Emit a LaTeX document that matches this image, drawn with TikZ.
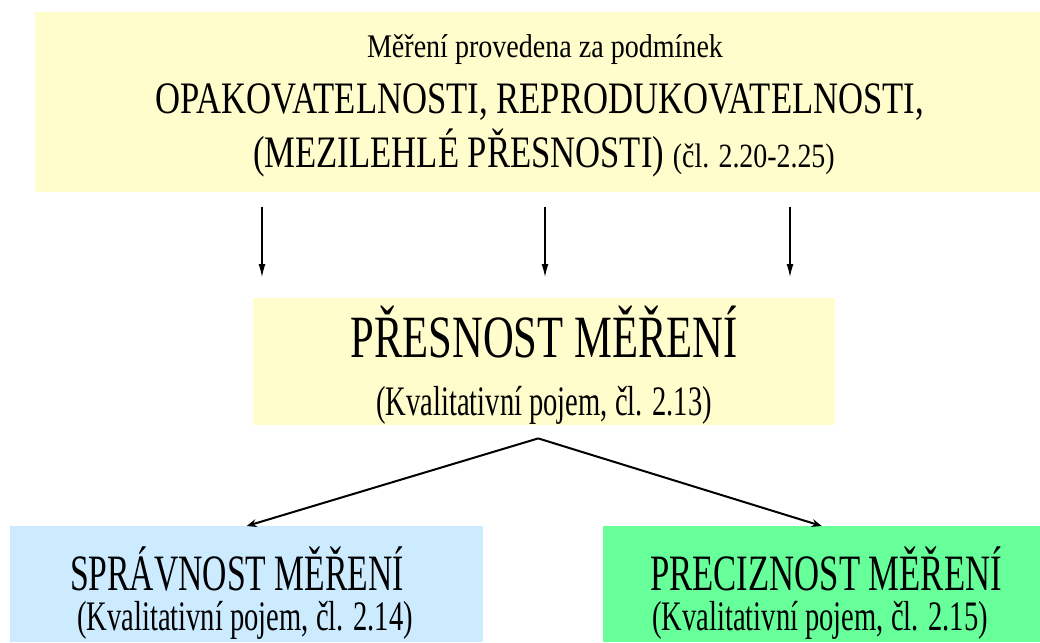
\documentclass[tikz,border=0pt]{standalone}
\usepackage{fontspec}
\setmainfont{Liberation Serif}
\usetikzlibrary{positioning, arrows.meta}
\definecolor{paleyellow}{HTML}{FFFDCC}
\definecolor{paleblue}{HTML}{CCEBFF}
\definecolor{palegreen}{HTML}{66FF99}
% narrow text: size, stretch
\newcommand{\narrowfont}[2]{\fontsize{#1}{#1}\selectfont\addfontfeatures{FakeStretch=#2}}

\begin{document}
\begin{tikzpicture}[x=1pt, y=-1pt]
    % Setup the styles for the boxes and texts
        \tikzset{box style/.style={rectangle,
                                   inner sep=0pt,
                                   anchor=north west},
                 text style/.style={inner sep=0pt, anchor=base},
                 cond text/.style={text style, font=\narrowfont{33}{0.85}},
                 caps text/.style={text style, font=\narrowfont{45}{0.77}},
                 title text/.style={text style, font=\narrowfont{51}{0.66}},
                 note text/.style={text style, font=\narrowfont{42}{0.68}}}

        \useasboundingbox (0,0) rectangle (1040,642);

        % Draw the boxes
        \node[box style, fill=paleyellow, minimum width=1005, minimum height=180] at (35, 12)   (top)   {};
        \node[box style, fill=paleyellow, minimum width=582,  minimum height=127] at (253, 298) (mid)   {};
        \node[box style, fill=paleblue,   minimum width=473,  minimum height=116] at (10, 526)  (left)  {};
        \node[box style, fill=palegreen,  minimum width=437,  minimum height=116] at (603, 526) (right) {};

        % Texts of the boxes
        \node[cond text]  at (545, 58)  (cond)  {Měření provedena za podmínek};
        \node[caps text]  at (540, 113) (repro) {OPAKOVATELNOSTI, REPRODUKOVATELNOSTI,};
        \node[caps text]  at (544, 167) (inter) {(MEZILEHLÉ PŘESNOSTI) {\narrowfont{34}{0.82}(čl. 2.20-2.25)}};
        \node[title text, font=\narrowfont{60}{0.71}] at (544, 357) (prec) {PŘESNOST MĚŘENÍ};
        \node[note text]  at (544, 415) (qual)  {(Kvalitativní pojem, čl. 2.13)};
        \node[title text] at (237, 590) (trueness)  {SPRÁVNOST MĚŘENÍ};
        \node[note text]  at (245, 630) (qualA) {(Kvalitativní pojem, čl. 2.14)};
        \node[title text, font=\narrowfont{51}{0.68}] at (826, 590) (precision) {PRECIZNOST MĚŘENÍ};
        \node[note text]  at (820, 630) (qualB) {(Kvalitativní pojem, čl. 2.15)};

        \coordinate[below=13pt of mid.south, xshift=-6pt] (peak);

        % Connect the boxes with arrows
        \foreach \x in {262, 545, 790}
            \draw[line width=1.2pt, -{Latex[length=13pt, width=7pt]},
                  shorten <=15pt, shorten >=21pt]
                (top.south -| \x,0) -- (mid.north -| \x,0);
        \draw[line width=2pt, -{Stealth[length=10pt, width=8pt]}] (peak) -- (left.north);
        \draw[line width=2pt, -{Stealth[length=10pt, width=8pt]}] (peak) -- (right.north);
\end{tikzpicture}
\end{document}
